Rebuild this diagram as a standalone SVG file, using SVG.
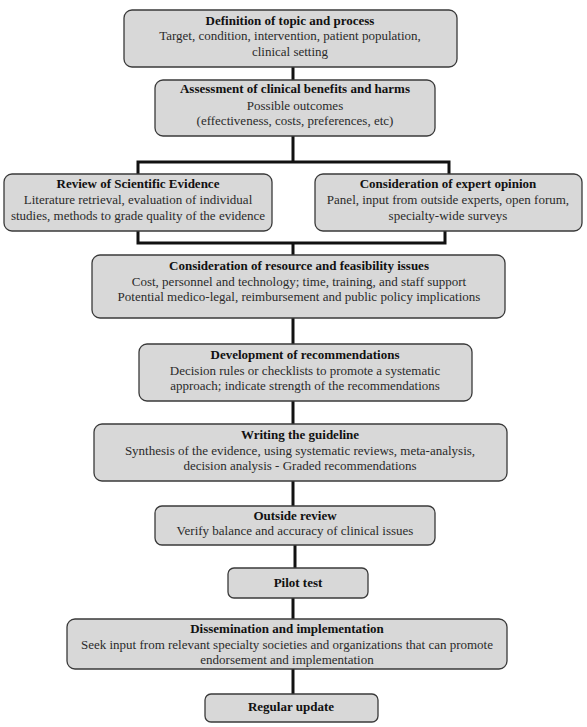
<svg xmlns="http://www.w3.org/2000/svg" width="587" height="727" viewBox="0 0 587 727">
<style>
.box{fill:#d8d8d8;stroke:#3a3a3a;stroke-width:1.3}
.t{font-family:"Liberation Serif","Times New Roman",serif;font-size:13px;fill:#2a2a2a;text-anchor:middle}
.b{font-weight:bold;fill:#111}
.c{fill:none;stroke:#111;stroke-width:3}
</style>
<rect width="587" height="727" fill="#fff"/>
<g id="connectors">
<path class="c" d="M293,67V80"/>
<path class="c" d="M293,136V162M138,174V162H449V174"/>
<path class="c" d="M138,231V243H445V231M293,243V255"/>
<path class="c" d="M293,318V344"/>
<path class="c" d="M293,401V424"/>
<path class="c" d="M293,481V506"/>
<path class="c" d="M295,545V568"/>
<path class="c" d="M293,598V619"/>
<path class="c" d="M293,669V694"/>
</g>
<g id="n1">
<rect class="box" x="124" y="10" width="333" height="57" rx="8"/>
<text class="t b" x="290" y="25">Definition of topic and process</text>
<text class="t" x="290" y="40">Target, condition, intervention, patient population,</text>
<text class="t" x="290" y="56">clinical setting</text>
</g>
<g id="n2">
<rect class="box" x="155" y="80" width="280" height="56" rx="8"/>
<text class="t b" x="295" y="93">Assessment of clinical benefits and harms</text>
<text class="t" x="295" y="110">Possible outcomes</text>
<text class="t" x="295" y="125">(effectiveness, costs, preferences, etc)</text>
</g>
<g id="n3">
<rect class="box" x="4" y="174" width="268" height="57" rx="8"/>
<text class="t b" x="138" y="188">Review of Scientific Evidence</text>
<text class="t" x="138" y="204">Literature retrieval, evaluation of individual</text>
<text class="t" x="138" y="220">studies, methods to grade quality of the evidence</text>
</g>
<g id="n4">
<rect class="box" x="315" y="174" width="267" height="57" rx="8"/>
<text class="t b" x="448" y="188">Consideration of expert opinion</text>
<text class="t" x="448" y="204">Panel, input from outside experts, open forum,</text>
<text class="t" x="448" y="220">specialty-wide surveys</text>
</g>
<g id="n5">
<rect class="box" x="92" y="255" width="413" height="63" rx="8"/>
<text class="t b" x="299" y="270">Consideration of resource and feasibility issues</text>
<text class="t" x="299" y="286">Cost, personnel and technology; time, training, and staff support</text>
<text class="t" x="299" y="301">Potential medico-legal, reimbursement and public policy implications</text>
</g>
<g id="n6">
<rect class="box" x="139" y="344" width="333" height="57" rx="8"/>
<text class="t b" x="305" y="359">Development of recommendations</text>
<text class="t" x="305" y="375">Decision rules or checklists to promote a systematic</text>
<text class="t" x="305" y="390">approach; indicate strength of the recommendations</text>
</g>
<g id="n7">
<rect class="box" x="94" y="424" width="413" height="57" rx="8"/>
<text class="t b" x="300" y="439">Writing the guideline</text>
<text class="t" x="300" y="455">Synthesis of the evidence, using systematic reviews, meta-analysis,</text>
<text class="t" x="300" y="470">decision analysis - Graded recommendations</text>
</g>
<g id="n8">
<rect class="box" x="155" y="506" width="280" height="39" rx="7"/>
<text class="t b" x="295" y="520">Outside review</text>
<text class="t" x="295" y="535">Verify balance and accuracy of clinical issues</text>
</g>
<g id="n9">
<rect class="box" x="228" y="568" width="140" height="30" rx="6"/>
<text class="t b" x="298" y="587">Pilot test</text>
</g>
<g id="n10">
<rect class="box" x="67" y="619" width="440" height="50" rx="8"/>
<text class="t b" x="287" y="633">Dissemination and implementation</text>
<text class="t" x="287" y="649">Seek input from relevant specialty societies and organizations that can promote</text>
<text class="t" x="287" y="664">endorsement and implementation</text>
</g>
<g id="n11">
<rect class="box" x="205" y="694" width="173" height="28" rx="6"/>
<text class="t b" x="291" y="711">Regular update</text>
</g>
</svg>
